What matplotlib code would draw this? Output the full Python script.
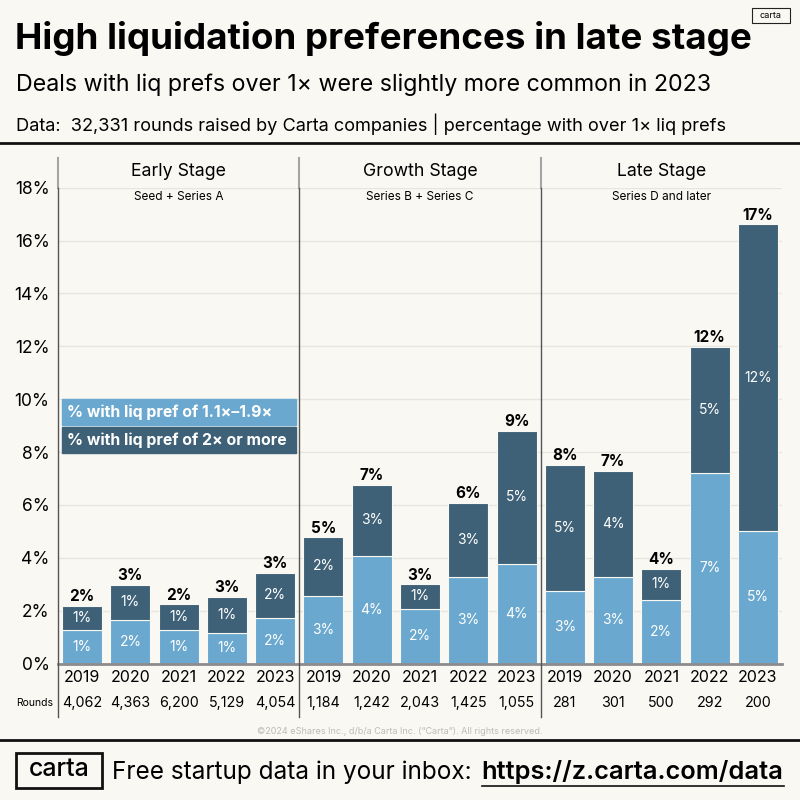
import numpy as np
import matplotlib.pyplot as plt
from matplotlib.patches import Rectangle
from matplotlib.lines import Line2D

plt.rcParams['font.family'] = ['Inter', 'DejaVu Sans']

# colours
BG = '#FAF8F3'
LIGHT = '#6AA8CF'
DARK = '#3E6177'
GRID = '#E8E5DE'

# data (percent of rounds)
years = ['2019', '2020', '2021', '2022', '2023']
stages = ['Early Stage', 'Growth Stage', 'Late Stage']
stage_notes = ['Seed + Series A', 'Series B + Series C', 'Series D and later']

early_mid = [1.28, 1.65, 1.27, 1.17, 1.72]    # 1.1x-1.9x
early_high = [0.91, 1.33, 0.98, 1.35, 1.71]   # 2x or more
growth_mid = [2.56, 4.07, 2.08, 3.28, 3.77]
growth_high = [2.22, 2.70, 0.93, 2.80, 5.04]
late_mid = [2.75, 3.28, 2.39, 7.19, 5.02]
late_high = [4.77, 4.01, 1.20, 4.79, 11.59]

early_rounds = [4062, 4363, 6200, 5129, 4054]
growth_rounds = [1184, 1242, 2043, 1425, 1055]
late_rounds = [281, 301, 500, 292, 200]

mid = np.array(early_mid + growth_mid + late_mid)
high = np.array(early_high + growth_high + late_high)
rounds = early_rounds + growth_rounds + late_rounds
total = mid + high
x = np.arange(len(mid))


def fx(px):
    return px / 800


def fy(py):
    return 1 - py / 800


Y0, Y18 = 663.5, 187.7


def dy(py):
    # pixel row -> data value on the y axis
    return (Y0 - py) / ((Y0 - Y18) / 18)


fig = plt.figure(figsize=(8, 8), dpi=100, facecolor=BG)

# header
fig.text(fx(15), fy(38), 'High liquidation preferences in late stage',
         fontsize=26.5, fontweight='bold', va='center', ha='left')
fig.text(fx(16), fy(85), 'Deals with liq prefs over 1\u00d7 were slightly more common in 2023',
         fontsize=16.7, va='center', ha='left')
fig.text(fx(16), fy(124), 'Data:  32,331 rounds raised by Carta companies | percentage with over 1\u00d7 liq prefs',
         fontsize=13.1, va='center', ha='left')
fig.add_artist(Line2D([0, 1], [fy(143), fy(143)], color='#111111', lw=2, transform=fig.transFigure))
fig.add_artist(Rectangle((fx(752), fy(23)), fx(38), fx(15), fill=False, ec='#222222', lw=0.8,
                         transform=fig.transFigure))
fig.text(fx(771), fy(15.5), 'carta', fontsize=6.5, ha='center', va='center')

# main axes
ax = fig.add_axes([fx(58), fy(Y0), fx(782) - fx(58), fy(Y18) - fy(Y0)])
ax.set_facecolor(BG)
ax.set_xlim(-0.5, 14.5)
ax.set_ylim(0, 18)

ax.bar(x, mid, width=0.83, color=LIGHT, edgecolor=BG, linewidth=0.8, zorder=3)
ax.bar(x, high, bottom=mid, width=0.83, color=DARK, edgecolor=BG, linewidth=0.8, zorder=3)

for xi, m, h, t in zip(x, mid, high, total):
    ax.text(xi, m / 2, f'{m:.0f}%', ha='center', va='center', color='white', fontsize=10, zorder=4)
    ax.text(xi, m + h / 2, f'{h:.0f}%', ha='center', va='center', color='white', fontsize=10, zorder=4)
    ax.annotate(f'{t:.0f}%', (xi, t), xytext=(0, 1), textcoords='offset points',
                ha='center', va='bottom', fontsize=11, fontweight='bold', zorder=4)

ax.set_yticks(range(0, 19, 2))
ax.set_yticklabels([f'{v}%' for v in range(0, 19, 2)], fontsize=12.5)
ax.tick_params(axis='y', length=0, pad=6)
ax.set_xticks([])
ax.grid(axis='y', color=GRID, lw=1, zorder=0)
for s in ax.spines.values():
    s.set_visible(False)
ax.axhline(0, color='#8C8C8C', lw=2, zorder=5, clip_on=False)

# year and rounds rows
for xi, yr, r in zip(x, years * 3, rounds):
    ax.text(xi, dy(677), yr, ha='center', va='center', fontsize=11.5, clip_on=False)
    ax.text(xi, dy(703), f'{r:,}', ha='center', va='center', fontsize=10.3, clip_on=False)
ax.text(-0.6, dy(703), 'Rounds', ha='right', va='center', fontsize=7.5, clip_on=False)

# stage headers and dividers
for i, (st, note) in enumerate(zip(stages, stage_notes)):
    c = 5 * i + 2
    ax.text(c, dy(172), st, ha='center', va='center', fontsize=12.8, clip_on=False)
    ax.text(c, dy(197.5), note, ha='center', va='center', fontsize=8.5, clip_on=False)
for xd in [-0.5, 4.5, 9.5]:
    ax.plot([xd, xd], [dy(158), 18], color='#A5A5A5', lw=1.5, clip_on=False, zorder=6)
    ax.plot([xd, xd], [18, dy(717)], color='#555555', lw=1, clip_on=False, zorder=6)

# legend boxes
fig.add_artist(Rectangle((fx(62), fy(425)), fx(234), fx(26), color=LIGHT, transform=fig.transFigure, zorder=7))
fig.add_artist(Rectangle((fx(62), fy(453)), fx(234), fx(26), color=DARK, transform=fig.transFigure, zorder=7))
fig.text(fx(67), fy(412), '% with liq pref of 1.1\u00d7\u20131.9\u00d7', color='white', fontweight='bold',
         fontsize=11.4, va='center', ha='left', zorder=8)
fig.text(fx(67), fy(440), '% with liq pref of 2\u00d7 or more', color='white', fontweight='bold',
         fontsize=11.4, va='center', ha='left', zorder=8)

# copyright
fig.text(0.5, fy(731), '\u00a92024 eShares Inc., d/b/a Carta Inc. (\u201cCarta\u201d). All rights reserved.',
         fontsize=6.5, color='#BBBBBB', ha='center', va='center')

# footer
fig.add_artist(Line2D([0, 1], [fy(740), fy(740)], color='#111111', lw=2, transform=fig.transFigure))
fig.add_artist(Rectangle((fx(16), fy(788)), fx(86), fx(35), fill=False, ec='#111111', lw=2,
                         transform=fig.transFigure))
fig.text(fx(59), fy(770), 'carta', fontsize=18, fontweight='medium', ha='center', va='center')
t1 = fig.text(fx(112), fy(772), 'Free startup data in your inbox:', fontsize=17.5, ha='left', va='center')
fig.canvas.draw()
bb = t1.get_window_extent()
t2 = fig.text(bb.x1 / 800 + fx(10), fy(772), 'https://z.carta.com/data', fontsize=18.3,
              fontweight='semibold', ha='left', va='center')
fig.canvas.draw()
bb2 = t2.get_window_extent()
fig.add_artist(Line2D([bb2.x0 / 800, bb2.x1 / 800], [fy(786), fy(786)], color='#111111', lw=1.2,
                      transform=fig.transFigure))

fig.savefig('out.png', dpi=100, facecolor=BG)
